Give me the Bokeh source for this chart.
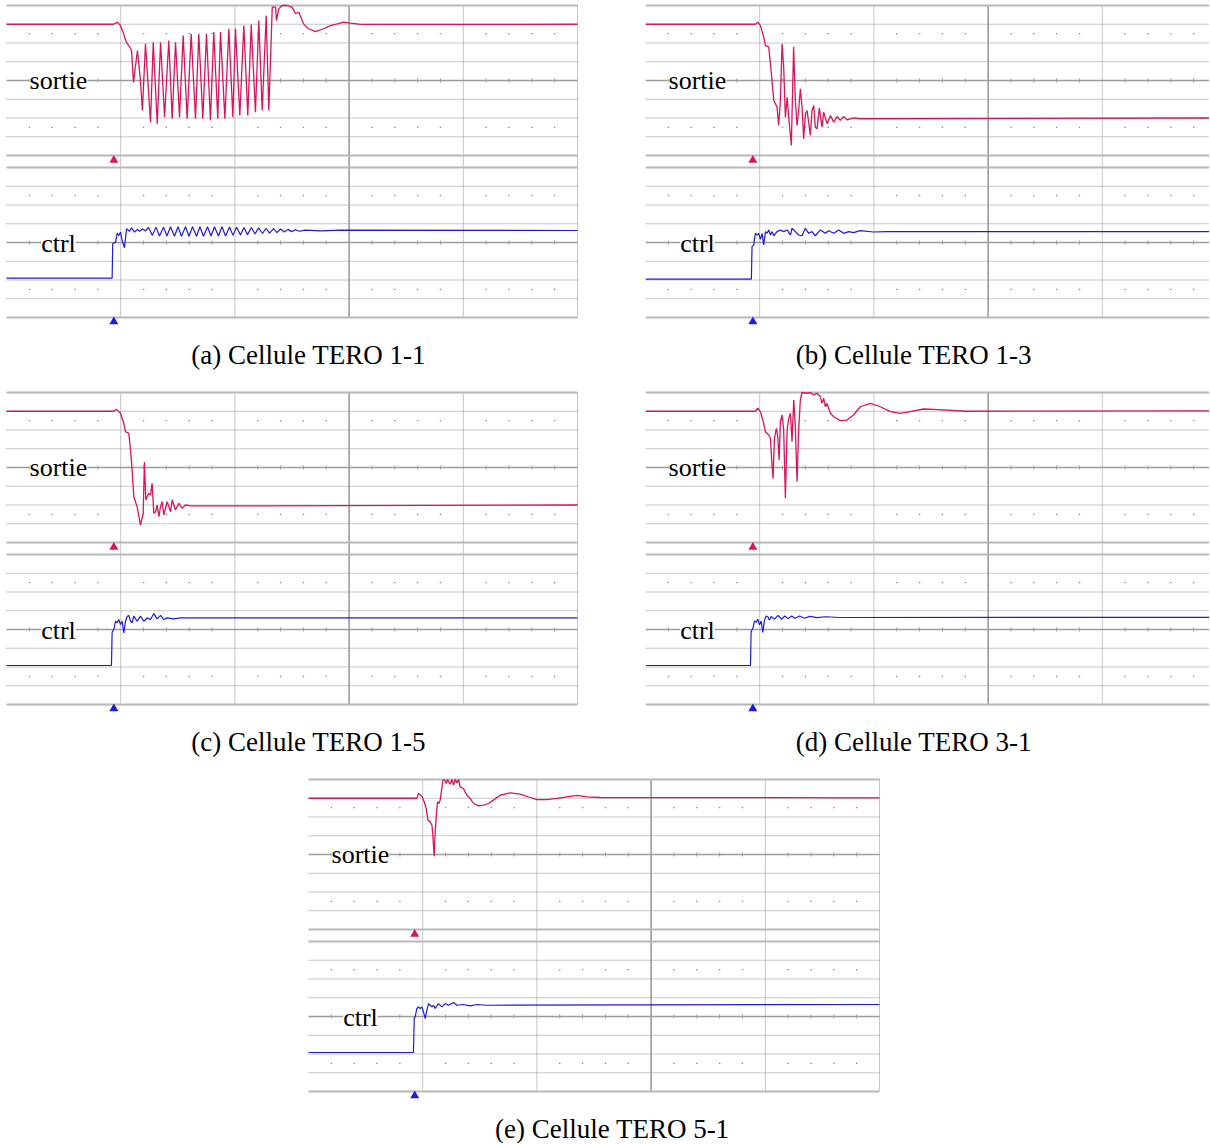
from bokeh.plotting import figure
from bokeh.models import Range1d, Label, Spacer
from bokeh.layouts import row, column
from bokeh.embed import file_html
from bokeh.resources import INLINE

# ---------------- data (time and level in scope divisions) ----------------
a_sortie_t = [0.0, 0.937, 0.972, 0.998, 1.025, 1.05, 1.077, 1.095, 1.112, 1.13, 1.147, 1.173, 1.19,
              1.217, 1.261, 1.285, 1.320, 1.349, 1.384, 1.421, 1.451, 1.480, 1.515, 1.547, 1.582,
              1.617, 1.655, 1.684, 1.719, 1.751, 1.786, 1.815, 1.850, 1.874, 1.912, 1.947, 1.982,
              2.005, 2.043, 2.078, 2.113, 2.143, 2.180, 2.209, 2.239, 2.274, 2.297, 2.327, 2.356,
              2.364, 2.384, 2.414, 2.458, 2.502, 2.531, 2.560, 2.601, 2.644, 2.706, 2.776, 2.837,
              2.898, 2.951, 3.012, 3.1, 5.0]
a_sortie_v = [3.0, 3.0, 3.11, 2.93, 2.5, 2.03, 1.81, 1.6, -0.1, 0.8, 1.6, 0.0, -1.6,
              1.96, -2.22, 2.04, -2.31, 2.04, -1.96, 2.13, -2.04, 2.04, -1.96, 2.4, -2.04,
              2.49, -2.04, 2.49, -2.04, 2.49, -2.13, 2.58, -2.04, 2.58, -2.04, 2.76, -1.96,
              2.76, -1.87, 2.93, -1.87, 2.99, -1.69, 3.2, -1.6, 3.47, -1.6, 3.91, 3.91,
              3.2, 3.82, 4.0, 4.0, 3.9, 3.56, 3.64, 3.02, 2.76, 2.61, 2.76, 2.93,
              3.02, 3.11, 3.06, 2.99, 3.0]
a_ctrl_t = [0.0, 0.925, 0.93, 0.955, 0.969, 0.984, 0.998, 1.013, 1.033, 1.051, 1.077, 1.095, 1.121,
            1.147, 1.165, 1.191, 1.217, 1.243, 1.278, 1.309, 1.340, 1.375, 1.405, 1.436, 1.471,
            1.502, 1.532, 1.567, 1.598, 1.629, 1.664, 1.694, 1.725, 1.760, 1.791, 1.821, 1.856,
            1.887, 1.918, 1.953, 1.983, 2.014, 2.049, 2.080, 2.110, 2.145, 2.176, 2.207, 2.242,
            2.272, 2.303, 2.338, 2.369, 2.399, 2.434, 2.465, 2.496, 2.531, 2.566, 2.618, 2.750,
            2.925, 5.0]
a_ctrl_v = [-1.9, -1.9, -0.07, 0.02, 0.5, 0.37, 0.55, 0.1, -0.28, 0.73, 0.6, 0.78, 0.55,
            0.7, 0.6, 0.72, 0.62, 0.8, 0.38, 0.82, 0.35, 0.82, 0.35, 0.84, 0.33,
            0.84, 0.33, 0.84, 0.33, 0.84, 0.33, 0.84, 0.33, 0.84, 0.35, 0.84, 0.35,
            0.84, 0.35, 0.83, 0.38, 0.82, 0.4, 0.8, 0.42, 0.8, 0.45, 0.78, 0.48,
            0.76, 0.5, 0.74, 0.53, 0.72, 0.56, 0.7, 0.58, 0.68, 0.6, 0.66, 0.62,
            0.66, 0.64]

b_sortie_t = [0.0, 0.962, 0.983, 1.006, 1.035, 1.05, 1.079, 1.094, 1.108, 1.123, 1.152, 1.166,
              1.181, 1.196, 1.21, 1.225, 1.24, 1.254, 1.277, 1.297, 1.312, 1.327, 1.341, 1.356,
              1.371, 1.385, 1.4, 1.415, 1.444, 1.458, 1.473, 1.487, 1.502, 1.522, 1.546, 1.56,
              1.59, 1.619, 1.648, 1.677, 1.706, 1.735, 1.765, 1.822, 1.881, 5.0]
b_sortie_v = [3.0, 3.0, 3.11, 2.93, 2.31, 1.87, 1.78, 0.89, 0.0, -1.07, -1.42, -2.4,
              -1.07, 1.96, 0.71, -1.96, -0.89, -1.96, -3.47, 1.78, -1.07, -2.4, -1.6, -0.44,
              -1.42, -3.11, -1.78, -1.6, -2.93, -1.6, -1.33, -2.49, -2.58, -1.46, -2.49, -1.69,
              -2.31, -1.87, -2.22, -1.92, -2.13, -1.92, -2.1, -1.99, -2.04, -2.0]
b_ctrl_t = [0.0, 0.927, 0.933, 0.948, 0.962, 0.977, 0.991, 1.006, 1.021, 1.035, 1.05, 1.065,
            1.079, 1.094, 1.108, 1.123, 1.152, 1.181, 1.21, 1.24, 1.269, 1.283, 1.312, 1.341,
            1.371, 1.4, 1.429, 1.458, 1.487, 1.531, 1.575, 1.604, 1.648, 1.692, 1.735, 1.779,
            1.822, 1.881, 1.997, 2.115, 5.0]
b_ctrl_v = [-1.95, -1.95, -0.22, -0.13, 0.49, 0.4, 0.49, 0.17, 0.49, -0.13, 0.58, 0.49,
            0.67, 0.4, 0.58, 0.36, 0.58, 0.67, 0.58, 0.67, 0.4, 0.76, 0.58, 0.4,
            0.36, 0.76, 0.49, 0.58, 0.36, 0.67, 0.49, 0.63, 0.49, 0.67, 0.49, 0.58,
            0.53, 0.63, 0.56, 0.58, 0.58]

c_sortie_t = [0.0, 0.94, 0.963, 0.998, 1.027, 1.042, 1.071, 1.086, 1.1, 1.115, 1.144, 1.173,
              1.197, 1.208, 1.22, 1.232, 1.246, 1.261, 1.275, 1.29, 1.305, 1.319, 1.334, 1.349,
              1.363, 1.378, 1.407, 1.436, 1.451, 1.48, 1.509, 1.538, 1.567, 1.611, 5.0]
c_sortie_v = [3.0, 3.0, 3.1, 2.89, 2.36, 1.91, 1.82, 0.93, -0.13, -1.56, -2.09, -3.07,
              -2.44, 0.31, -1.73, -1.56, -1.38, -1.47, -0.84, -2.44, -2.36, -2.0, -2.62, -2.09,
              -1.82, -2.53, -1.82, -2.36, -1.73, -2.27, -1.91, -2.18, -2.0, -2.05, -2.0]
c_ctrl_t = [0.0, 0.919, 0.925, 0.94, 0.954, 0.969, 0.983, 0.998, 1.013, 1.027, 1.042, 1.057,
            1.071, 1.086, 1.1, 1.115, 1.144, 1.173, 1.202, 1.232, 1.261, 1.29, 1.319, 1.349,
            1.378, 1.407, 1.465, 1.524, 5.0]
c_ctrl_v = [-1.92, -1.92, -0.14, 0.0, 0.44, 0.36, 0.53, 0.27, 0.44, -0.18, 0.44, 0.71,
            0.75, 0.44, 0.36, 0.71, 0.44, 0.71, 0.44, 0.62, 0.53, 0.85, 0.57, 0.75,
            0.53, 0.62, 0.57, 0.62, 0.62]

d_sortie_t = [0.0, 0.962, 0.983, 1.006, 1.035, 1.05, 1.079, 1.094, 1.108, 1.117, 1.129, 1.146,
              1.158, 1.17, 1.181, 1.196, 1.21, 1.225, 1.24, 1.254, 1.269, 1.283, 1.298, 1.312,
              1.327, 1.341, 1.356, 1.371, 1.415, 1.444, 1.473, 1.502, 1.531, 1.546, 1.56, 1.575,
              1.59, 1.619, 1.648, 1.706, 1.765, 1.822, 1.881, 1.969, 2.056, 2.143, 2.231, 2.318,
              2.435, 2.522, 2.8, 5.0]
d_sortie_v = [3.0, 3.0, 3.16, 2.98, 2.36, 1.91, 1.73, 1.56, 0.13, -0.58, 1.56, 2.09,
              1.64, 0.4, 2.44, 2.8, 2.0, -1.64, 2.0, 2.62, 2.89, 1.38, 3.6, 2.18,
              -0.76, 2.0, 3.6, 4.0, 3.96, 4.0, 3.87, 3.96, 3.78, 3.42, 3.69, 3.24,
              3.42, 2.89, 2.71, 2.5, 2.53, 2.8, 3.24, 3.42, 3.24, 2.98, 2.89, 2.98,
              3.12, 3.1, 3.0, 3.02]
d_ctrl_t = [0.0, 0.919, 0.925, 0.94, 0.954, 0.969, 0.983, 0.998, 1.013, 1.027, 1.042, 1.057,
            1.071, 1.086, 1.1, 1.13, 1.16, 1.19, 1.22, 1.25, 1.28, 1.31, 1.35, 1.39,
            1.44, 1.5, 1.58, 1.7, 5.0]
d_ctrl_v = [-1.92, -1.92, -0.1, 0.05, 0.45, 0.38, 0.55, 0.25, 0.45, -0.15, 0.5, 0.72,
            0.68, 0.5, 0.7, 0.55, 0.75, 0.55, 0.72, 0.58, 0.72, 0.6, 0.72, 0.6,
            0.7, 0.63, 0.68, 0.64, 0.65]

e_sortie_t = [0.0, 0.949, 0.963, 0.993, 1.013, 1.031, 1.046, 1.066, 1.081, 1.089, 1.095, 1.101,
              1.107, 1.118, 1.13, 1.142, 1.153, 1.165, 1.177, 1.188, 1.206, 1.217, 1.229, 1.241,
              1.256, 1.27, 1.285, 1.3, 1.314, 1.328, 1.357, 1.387, 1.416, 1.445, 1.489, 1.532,
              1.576, 1.62, 1.679, 1.766, 1.854, 1.941, 2.0, 2.088, 2.175, 2.263, 2.35, 2.438,
              2.554, 5.0]
e_sortie_v = [3.0, 3.0, 3.25, 3.11, 2.81, 2.45, 1.83, 1.74, 1.56, 1.03, 0.41, -0.09,
              0.94, 2.01, 2.81, 2.72, 2.9, 3.43, 3.96, 4.0, 3.79, 4.0, 3.87, 3.75,
              4.0, 3.7, 4.0, 3.82, 4.0, 3.61, 3.52, 3.16, 2.99, 2.72, 2.59, 2.63,
              2.72, 2.9, 3.16, 3.29, 3.22, 3.04, 2.93, 2.93, 2.99, 3.07, 3.15, 3.07,
              3.04, 3.02]
e_ctrl_t = [0.0, 0.919, 0.926, 0.934, 0.949, 0.963, 0.978, 0.993, 1.007, 1.022, 1.037, 1.051,
            1.066, 1.081, 1.095, 1.109, 1.138, 1.168, 1.197, 1.226, 1.27, 1.3, 1.357, 1.416,
            1.475, 1.562, 5.0]
e_ctrl_v = [-1.92, -1.92, -0.09, -0.02, 0.43, 0.51, 0.43, 0.51, 0.25, -0.11, 0.34, 0.69,
            0.6, 0.51, 0.6, 0.43, 0.69, 0.51, 0.69, 0.6, 0.75, 0.6, 0.64, 0.57,
            0.64, 0.6, 0.64]

captions = ["(a) Cellule TERO 1-1", "(b) Cellule TERO 1-3", "(c) Cellule TERO 1-5",
            "(d) Cellule TERO 3-1", "(e) Cellule TERO 5-1"]
trigger_pos = [0.94, 0.94, 0.94, 0.94, 0.93]
caption_x = [2.645, 2.35, 2.645, 2.35, 2.66]

# ---------------- styling / layout constants ----------------
PX_X = 114.2      # pixels per horizontal division
PX_Y = 18.75      # pixels per vertical division
GAP_PX = 12       # gap between the two screens
PAD_PX = 5        # space above the upper screen
CAP_PX = 354.0    # caption position below the figure top
RED = "#d8145e"
BLUE = "#1c1cdc"
GRID_C = "#8c8c8c"
BORDER_C = "#b8b8b8"
AXIS_C = "#9c9c9c"
SERIF = "Liberation Serif"
H_DOTTED = [-3, -2, -1, 1, 2, 3]
V_DOTTED = [1, 2, 4, 5]
MINOR = [round(0.2 * k, 2) for k in range(1, 25) if k % 5 != 0]


def add_screen(p, rng, extend_px):
    kw = dict(y_range_name=rng)
    p.multi_line(xs=[[0, 5] for _ in H_DOTTED], ys=[[k, k] for k in H_DOTTED],
                 line_color=GRID_C, line_width=1, line_dash="1 1", **kw)
    ybot = -4 - extend_px / PX_Y
    p.multi_line(xs=[[x, x] for x in V_DOTTED], ys=[[4, ybot] for _ in V_DOTTED],
                 line_color=GRID_C, line_width=1, line_dash="1 1", **kw)
    p.multi_line(xs=[[3, 3]], ys=[[4, ybot]], line_color=AXIS_C, line_width=1.6, **kw)
    p.multi_line(xs=[[0, 5], [0, 5]], ys=[[4, 4], [-4, -4]],
                 line_color=BORDER_C, line_width=2, **kw)
    p.multi_line(xs=[[0, 5]], ys=[[0, 0]], line_color=AXIS_C, line_width=1.6, **kw)
    p.segment(x0=MINOR, y0=-0.11, x1=MINOR, y1=0.11, line_color=AXIS_C, line_width=1, **kw)
    p.scatter(x=MINOR + MINOR, y=[2.5] * len(MINOR) + [-2.5] * len(MINOR),
              marker="square", size=1.4, line_color=None, fill_color=GRID_C, **kw)


def make_panel(idx, ts, vs, tc, vc, width, height, x0):
    top = 4 + PAD_PX / PX_Y
    ctop = top + (150 + GAP_PX) / PX_Y
    p = figure(width=width, height=height, output_backend="svg", toolbar_location=None,
               x_range=Range1d(x0, x0 + width / PX_X),
               y_range=Range1d(top - height / PX_Y, top),
               x_axis_location=None, y_axis_location=None, min_border=0,
               outline_line_color=None, background_fill_color="white",
               border_fill_color="white")
    p.extra_y_ranges = {"ctrl": Range1d(ctop - height / PX_Y, ctop)}
    p.xgrid.visible = False
    p.ygrid.visible = False
    add_screen(p, "default", GAP_PX)
    add_screen(p, "ctrl", 0)
    p.line(ts, vs, line_color=RED, line_width=1.3)
    p.line(tc, vc, line_color=BLUE, line_width=1.2, y_range_name="ctrl")
    trig = trigger_pos[idx]
    p.scatter([trig], [-4.25], marker="triangle", size=9, line_color=None, fill_color=RED)
    p.scatter([trig], [-4.22], marker="triangle", size=9, line_color=None, fill_color=BLUE,
              y_range_name="ctrl")
    p.add_layout(Label(x=0.455, y=0.02, text="sortie", text_font=SERIF, text_font_size="26px",
                       text_align="center", text_baseline="alphabetic", text_color="black",
                       background_fill_color="white"))
    p.add_layout(Label(x=0.455, y=-0.06, y_range_name="ctrl", text="ctrl", text_font=SERIF,
                       text_font_size="26px", text_align="center", text_baseline="alphabetic",
                       text_color="black", background_fill_color="white"))
    p.add_layout(Label(x=caption_x[idx], y=top - CAP_PX / PX_Y, text=captions[idx],
                       text_font=SERIF, text_font_size="27px", text_align="center",
                       text_baseline="alphabetic", text_color="black"))
    return p


ROW_H = 387
LAST_H = 369
LEFT_W = 583
RIGHT_W = 564
X0_LEFT = -6 / PX_X

pa = make_panel(0, a_sortie_t, a_sortie_v, a_ctrl_t, a_ctrl_v, LEFT_W, ROW_H, X0_LEFT)
pb = make_panel(1, b_sortie_t, b_sortie_v, b_ctrl_t, b_ctrl_v, RIGHT_W, ROW_H, 0.0)
pc = make_panel(2, c_sortie_t, c_sortie_v, c_ctrl_t, c_ctrl_v, LEFT_W, ROW_H, X0_LEFT)
pd = make_panel(3, d_sortie_t, d_sortie_v, d_ctrl_t, d_ctrl_v, RIGHT_W, ROW_H, 0.0)
pe = make_panel(4, e_sortie_t, e_sortie_v, e_ctrl_t, e_ctrl_v, LEFT_W, LAST_H, X0_LEFT)

layout = column(
    row(pa, Spacer(width=62, height=ROW_H), pb),
    row(pc, Spacer(width=62, height=ROW_H), pd),
    row(Spacer(width=302, height=LAST_H), pe),
)

open("out.html", "w").write(file_html(layout, INLINE))
